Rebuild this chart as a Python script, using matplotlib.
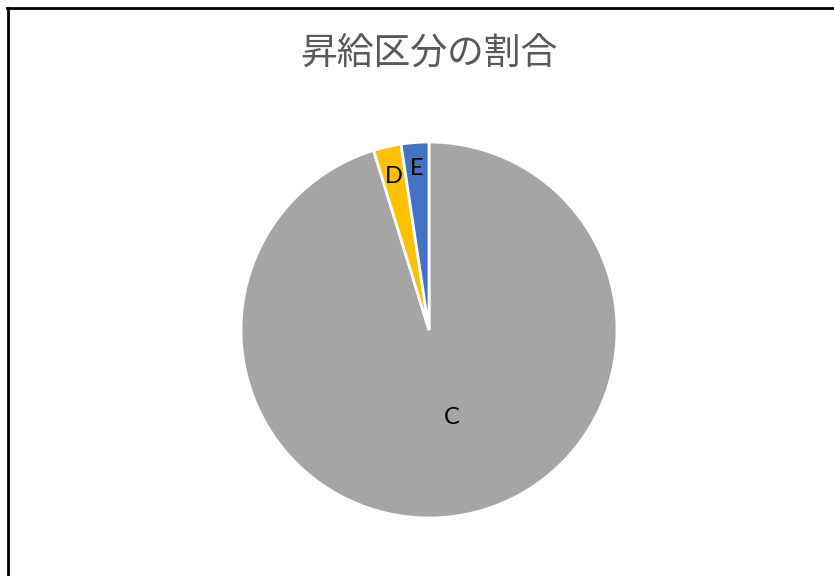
import numpy as np
import matplotlib
matplotlib.use("Agg")
import matplotlib.pyplot as plt
from matplotlib.lines import Line2D

plt.rcParams['font.family'] = ['Noto Sans CJK JP', 'DejaVu Sans']

title = "昇給区分の割合"
categories = ["C", "D", "E"]
counts = [40, 1, 1]
colors = ["#A5A5A5", "#FFC000", "#4472C4"]
# radial position of each label, as a fraction of the radius
label_pos = [0.47, 0.84, 0.86]

W, H = 834, 576
fig = plt.figure(figsize=(W / 100, H / 100), dpi=100)

# pie centred at (429, 330) px with radius 188 px
cx, cy, r = 429, 330, 188
ax = fig.add_axes([(cx - r) / W, (H - cy - r) / H, 2 * r / W, 2 * r / H])
wedges, _ = ax.pie(counts, colors=colors, startangle=90, counterclock=False,
                   wedgeprops=dict(edgecolor="white", linewidth=2))
ax.set_xlim(-1, 1)
ax.set_ylim(-1, 1)
ax.set_aspect("equal")
ax.axis("off")

for w, lab, d in zip(wedges, categories, label_pos):
    ang = np.deg2rad((w.theta1 + w.theta2) / 2)
    x, y = d * np.cos(ang), d * np.sin(ang)
    if lab == "C":
        x += 0.05
    ax.text(x, y, lab, ha="center", va="center",
            fontsize=17, color="black", family=["Lato", "DejaVu Sans"])

fig.text(cx / W, 1 - 53 / H, title, ha="center", va="center",
         fontsize=26.5, color="#595959")

# frame: top and left edges only
fig.add_artist(Line2D([7 / W, 1], [1 - 7.5 / H, 1 - 7.5 / H],
                      transform=fig.transFigure, color="black", linewidth=2))
fig.add_artist(Line2D([7.5 / W, 7.5 / W], [0, 1 - 7.5 / H],
                      transform=fig.transFigure, color="black", linewidth=2))

fig.savefig("out.png", dpi=100, facecolor="white")
